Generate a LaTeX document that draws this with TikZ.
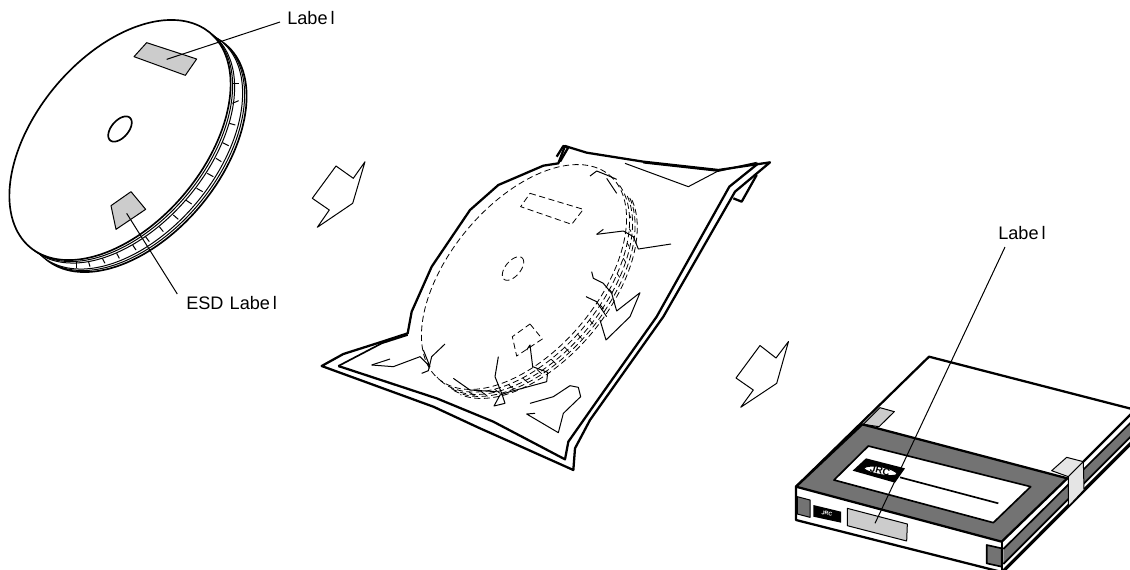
\documentclass[tikz,border=0pt]{standalone}
\usepackage{fontspec}
\setmainfont{Liberation Sans}
\newcommand{\elp}[7]{plot[smooth,samples=70,domain=#6:#7] ({#1+(#3)*cos(\x)*cos(#5)+(#4)*sin(\x)*sin(#5)},{#2-(#3)*cos(\x)*sin(#5)+(#4)*sin(\x)*cos(#5)})}
\newcommand{\labelword}{Labe\kern2.2pt l}
\tikzset{
 thick line/.style={line width=1.7pt,line join=round},
 mid line/.style={line width=1.25pt,line join=round},
 thin line/.style={line width=0.75pt,line join=round},
 hidden/.style={line width=0.6pt,dash pattern=on 4.6pt off 2.6pt},
 txt/.style={font=\fontsize{13.6pt}{15pt}\selectfont,inner sep=0pt,text=black},
 zoomA/.style={x=0.25pt,y=-0.25pt},
 zoomB/.style={x=0.25pt,y=-0.25pt,shift={(232.5pt,-90pt)}},
 zoomC/.style={x=0.25pt,y=-0.25pt,shift={(585pt,-255pt)}},
 hatchlight/.style={fill=black!20},
 hatchpale/.style={fill=black!10},
 hatchdark/.style={fill=black!55},
}
\begin{document}
\begin{tikzpicture}[x=0.75pt,y=-0.75pt]
\useasboundingbox (0,0) rectangle (1130,569);
% ---- disc ----
\draw[mid line,fill=white] \elp{136}{152}{140}{84}{50}{0}{360} -- cycle;
\draw[thin line] \elp{134}{150.5}{140}{84}{50}{0}{360};
\draw[thin line,fill=white] \elp{132}{149}{140}{84}{50}{0}{360} -- cycle;
\begin{scope}[zoomA]
\foreach \a/\b/\c/\d in {700/250/716/250,697/310/716/302,688/370/706/375,668/428/686/437,648/475/664/485,622/520/640/530,590/565/608/575,557/600/575/612,520/645/535/658,478/680/490/695,435/708/448/725,398/735/408/750,350/760/358/775,307/775/315/790,265/783/270/800,228/787/228/803}
  \draw[thin line] (\a,\b) -- (\c,\d);
\end{scope}
\draw[thin line] \elp{124}{143}{140}{84}{50}{0}{360};
\draw[thin line] \elp{122}{141.5}{140}{84}{50}{0}{360};
\draw[mid line,fill=white] \elp{120}{140}{140}{84}{50}{0}{360} -- cycle;
\draw[mid line] \elp{120}{129}{15}{8.5}{49}{0}{360} -- cycle;
\begin{scope}[zoomA]
\draw[thin line,hatchlight] (440,128) -- (590,177) -- (556,226) -- (402,170) -- cycle;
\draw[thin line,hatchlight] (393,575) -- (437,628) -- (348,688) -- (333,617) -- cycle;
\coordinate (discLabelEnd) at (500,178);
\coordinate (esdEnd) at (380,640);
\end{scope}
\node[txt,anchor=west] (discLabel) at (287,18.5) {\labelword};
\node[txt,anchor=west] (esdLabel) at (186,303.5) {ESD\kern4.6pt \labelword};
\coordinate (discLabelStart) at (280,22);
\coordinate (esdStart) at (177.3,294);
\draw[thin line] (discLabelStart) -- (discLabelEnd);
\draw[thin line] (esdStart) -- (esdEnd);
% ---- block arrows ----
\draw[thin line] (312.3,198.3) -- (336,166) -- (353.3,178.3) -- (365,161.7) -- (352.7,203.3) -- (317.3,227.3) -- (329.3,210) -- cycle;
\draw[thin line] (736,378) -- (760,345.5) -- (776,358) -- (788.5,341.5) -- (776.7,383.3) -- (740.7,407.3) -- (753.3,390) -- cycle;
% ---- bag ----
\begin{scope}[zoomB]
\draw[thick line] (740,110) -- (760,78) -- (775,82) -- (750,125);
\draw[thick line] (1270,235) -- (1295,245) -- (1340,165);
\draw[thick line] (35,738) -- (100,702) -- (210,667) -- (293,640) -- (305,575) -- (365,440) -- (480,270) -- (565,195) -- (700,137) -- (745,130) -- (765,78) -- (830,98) -- (1000,125) -- (1225,150) -- (1380,127) -- (1275,215) -- (1060,590) -- (840,900) -- (795,985) -- (790,1050) -- (600,965) -- (510,925) -- (370,860) -- cycle;
\draw[mid line] (85,738) -- (215,670) -- (293,645);
\draw[thick line] (85,738) -- (380,835) -- (550,905) -- (765,1018) -- (775,965) -- (870,830) -- (1040,590) -- (1258,200) -- (1345,130);
\draw[mid line] (1000,128) -- (1225,153) -- (1340,128);
% creases
\draw[thin line] (945,130) -- (1135,200) -- (1230,150);
\draw[thin line] (860,343) -- (940,333) -- (970,350) -- (985,387) -- (1083,372);
\draw[thin line] (860,343) -- (880,328);
\draw[thin line] (845,455) -- (850,475) -- (880,490) -- (905,520) -- (920,573) -- (990,518) -- (960,590) -- (888,660) -- (870,600);
\draw[thin line] (828,530) -- (860,545) -- (890,590);
\draw[thin line] (840,168) -- (860,153) -- (890,165) -- (920,178);
\draw[thin line] (890,175) -- (920,220);
\draw[thin line] (185,735) -- (240,717);
\draw[thin line] (185,735) -- (250,740) -- (330,710) -- (360,740) -- (340,690);
\draw[thin line] (335,760) -- (355,752) -- (365,710) -- (405,672);
\draw[thin line] (565,710) -- (555,770) -- (575,820) -- (585,850) -- (552,858) -- (570,825) -- (600,815) -- (710,785) -- (713,757) -- (668,740) -- (660,675) -- (650,690);
\draw[thin line] (430,775) -- (480,810) -- (560,815);
\draw[thin line] (660,850) -- (730,830) -- (780,797) -- (805,802) -- (812,830) -- (760,880) -- (745,938) -- (650,882) -- (675,880);
% hidden label and hole marks
\draw[hidden] (660,220) -- (820,268) -- (785,313) -- (632,260) -- cycle;
\draw[hidden] (660,612) -- (697,657) -- (620,708) -- (607,650) -- cycle;
\end{scope}
\draw[hidden] \elp{524}{277}{133}{74}{50}{0}{360};
\draw[hidden] \elp{513}{268.5}{14}{7.5}{50}{0}{360} -- cycle;
\draw[hidden] \elp{527}{279.6}{133}{74}{50}{8}{185};
\draw[hidden] \elp{530}{282}{133}{74}{50}{15}{175};
\draw[hidden] \elp{532.5}{284}{133}{74}{50}{15}{175};
\draw[hidden] \elp{534.7}{286}{133}{74}{50}{15}{170};
\foreach \t in {30,38,...,160}{
 \pgfmathsetmacro{\ax}{527+133*cos(\t)*cos(50)+74*sin(\t)*sin(50)}
 \pgfmathsetmacro{\ay}{279.6-133*cos(\t)*sin(50)+74*sin(\t)*cos(50)}
 \pgfmathsetmacro{\bx}{\ax+3+2.5*sin(\t-70)}
 \pgfmathsetmacro{\by}{\ay+2.4+2*sin(\t-20)}
 \draw[line width=0.6pt] (\ax,\ay) -- (\bx,\by);
}
% ---- cartridge ----
\begin{scope}[zoomC]
\clip (-10,0) rectangle (1050,687);
\draw[thick line,fill=white] (447,50) -- (1060,208) -- (1060,300) -- (665,696) -- (48,540) -- (48,440) -- cycle;
\fill[black!55] (670,627) -- (1060,240) -- (1060,282) -- (670,672) -- cycle;
\draw[mid line] (670,627) -- (1060,240);
\draw[mid line] (670,672) -- (1060,282);
\draw[thick line] (675,690) -- (1060,305);
\draw[thick line] (910,365) -- (1060,215);
\draw[thin line,hatchlight] (250,253) -- (300,203) -- (343,215) -- (297,260) -- cycle;
\draw[thin line,hatchpale] (815,392) -- (860,352) -- (910,365) -- (865,410) -- cycle;
\draw[thin line,hatchpale] (865,410) -- (910,365) -- (912,450) -- (865,500) -- cycle;
\draw[thick line,hatchdark] (247,253) -- (862,415) -- (665,605) -- (48,440) -- cycle;
\draw[mid line,fill=white] (265,318) -- (752,440) -- (640,548) -- (162,420) -- cycle;
\draw[mid line] (360,412) -- (655,490);
\fill[black] (258,355) -- (375,385) -- (345,428) -- (218,392) -- cycle;
\draw[thin line,fill=white] (250,385) .. controls (270,368) and (345,385) .. (352,402) .. controls (340,415) and (265,400) .. (250,385) -- cycle;
\node[inner sep=0pt,rotate=-15,font=\fontsize{7.5pt}{8pt}\selectfont\bfseries] (logoA) at (300,392) {JRC};
\draw[thin line,hatchdark] (52,470) -- (90,480) -- (90,532) -- (52,522) -- cycle;
\draw[mid line,hatchdark] (620,615) -- (665,625) -- (665,680) -- (620,670) -- cycle;
\fill[black] (100,495) -- (183,515) -- (183,548) -- (100,530) -- cycle;
\node[inner sep=0pt,rotate=-12,text=white,font=\fontsize{4pt}{5pt}\selectfont\bfseries] (logoB) at (141,521) {JRC};
\draw[thin line,hatchlight] (202,505) -- (382,552) -- (380,603) -- (202,557) -- cycle;
\draw[mid line] (665,605) -- (665,690);
\coordinate (cartLabelEnd) at (285,550);
\end{scope}
\node[txt,anchor=west] (cartLabel) at (998,233) {\labelword};
\coordinate (cartLabelStart) at (1005,247);
\draw[thin line] (cartLabelStart) -- (cartLabelEnd);
\end{tikzpicture}
\end{document}
